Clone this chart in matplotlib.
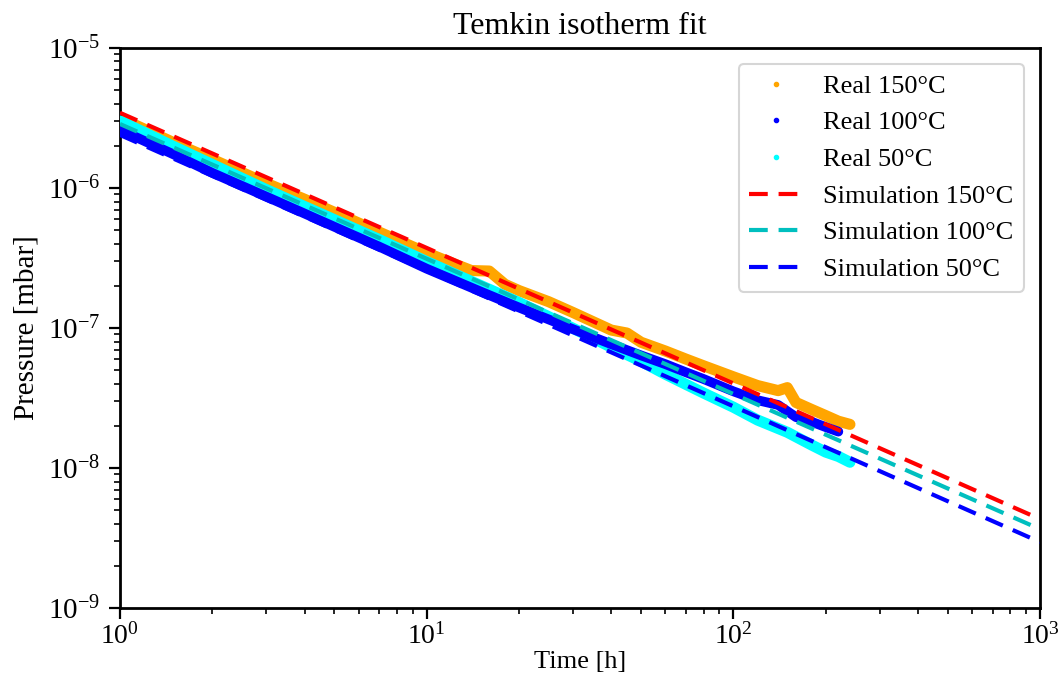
import matplotlib
matplotlib.use("Agg")
import matplotlib.pyplot as plt

# ---- data ----
t_150 = [1, 1.5, 2, 3, 4, 5, 7, 10, 12, 14, 16, 18, 20, 25, 30, 40, 45, 50, 60, 70, 80,
         100, 120, 140, 150, 160, 180, 200, 220, 240]
p_150 = [3.16e-6, 2.10e-6, 1.60e-6, 1.08e-6, 8.3e-7, 6.7e-7, 4.84e-7, 3.44e-7, 2.93e-7,
         2.57e-7, 2.55e-7, 2.05e-7, 1.85e-7, 1.54e-7, 1.29e-7, 9.66e-8, 9.2e-8, 7.91e-8,
         6.85e-8, 6.0e-8, 5.37e-8, 4.48e-8, 3.88e-8, 3.57e-8, 3.75e-8, 2.94e-8, 2.62e-8,
         2.37e-8, 2.16e-8, 2.05e-8]

t_100 = [1, 1.5, 2, 3, 4, 5, 7, 10, 15, 20, 30, 40, 50, 60, 70, 80, 100, 120, 140,
         160, 180, 200, 220]
p_100 = [2.60e-6, 1.73e-6, 1.28e-6, 8.67e-7, 6.56e-7, 5.28e-7, 3.81e-7, 2.65e-7, 1.82e-7,
         1.40e-7, 9.8e-8, 7.66e-8, 6.37e-8, 5.52e-8, 4.83e-8, 4.32e-8, 3.53e-8, 3.05e-8,
         2.82e-8, 2.31e-8, 2.14e-8, 1.96e-8, 1.82e-8]

t_50 = [1, 1.5, 2, 3, 4, 5, 7, 10, 15, 20, 30, 40, 50, 60, 70, 80, 100, 120, 150,
        180, 200, 220, 240]
p_50 = [3.01e-6, 1.97e-6, 1.47e-6, 9.73e-7, 7.36e-7, 5.93e-7, 4.28e-7, 2.98e-7, 2.01e-7,
        1.52e-7, 9.95e-8, 7.29e-8, 5.78e-8, 4.68e-8, 3.96e-8, 3.43e-8, 2.72e-8, 2.20e-8,
        1.80e-8, 1.46e-8, 1.30e-8, 1.21e-8, 1.10e-8]

t_sim = [1, 10, 100, 1000]
sim_150 = [3.44e-6, 3.73e-7, 4.02e-8, 4.32e-9]
sim_100 = [2.86e-6, 3.12e-7, 3.38e-8, 3.66e-9]
sim_50 = [2.39e-6, 2.56e-7, 2.76e-8, 2.96e-9]

labels_real = ["Real 150°C", "Real 100°C", "Real 50°C"]
labels_sim = ["Simulation 150°C", "Simulation 100°C", "Simulation 50°C"]

plt.rcParams["font.family"] = ["Liberation Serif", "DejaVu Serif"]
plt.rcParams["mathtext.fontset"] = "stix"

fig = plt.figure(figsize=(10.58, 6.84), dpi=100)
ax = fig.add_axes([0.1134, 0.111, 0.8696, 0.819])

band_lw = 8
# real data bands
ax.plot(t_150, p_150, color="orange", lw=band_lw, solid_capstyle="round",
        solid_joinstyle="round", zorder=2)
ax.plot(t_50, p_50, color="cyan", lw=band_lw, solid_capstyle="round",
        solid_joinstyle="round", zorder=3)
ax.plot(t_100, p_100, color="blue", lw=band_lw - 1, solid_capstyle="round",
        solid_joinstyle="round", zorder=4)
# point markers (legend entries)
ax.plot(t_150, p_150, ".", color="orange", ms=6, label=labels_real[0], zorder=2)
ax.plot(t_100, p_100, ".", color="blue", ms=6, label=labels_real[1], zorder=4)
ax.plot(t_50, p_50, ".", color="cyan", ms=6, label=labels_real[2], zorder=3)

dash = (4.5, 2.6)
ax.plot(t_sim, sim_150, "--", color="red", lw=3, dashes=dash, label=labels_sim[0], zorder=5)
ax.plot(t_sim, sim_100, "--", color="c", lw=3, dashes=dash, label=labels_sim[1], zorder=5)
ax.plot(t_sim, sim_50, "--", color="blue", lw=3, dashes=dash, label=labels_sim[2], zorder=5)

ax.set_xscale("log")
ax.set_yscale("log")
ax.set_xlim(1, 1000)
ax.set_ylim(1e-9, 1e-5)

for s in ax.spines.values():
    s.set_linewidth(2)
ax.tick_params(which="major", length=8, width=1.6)
ax.tick_params(axis="y", which="major", labelsize=21, pad=6)
ax.tick_params(axis="x", which="major", labelsize=20, pad=3)
ax.tick_params(which="minor", length=4.5, width=1.2)

ax.set_title("Temkin isotherm fit", fontsize=23, pad=10)
ax.set_xlabel("Time [h]", fontsize=19, labelpad=1)
ax.set_ylabel("Pressure [mbar]", fontsize=21, labelpad=6)

leg = ax.legend(loc="upper right", fontsize=19, frameon=True, borderaxespad=0.6,
                handlelength=2.0, labelspacing=0.5, markerscale=1.0)
leg.get_frame().set_edgecolor("#cccccc")
leg.get_frame().set_linewidth(1.5)

fig.savefig("out.png", dpi=100)
